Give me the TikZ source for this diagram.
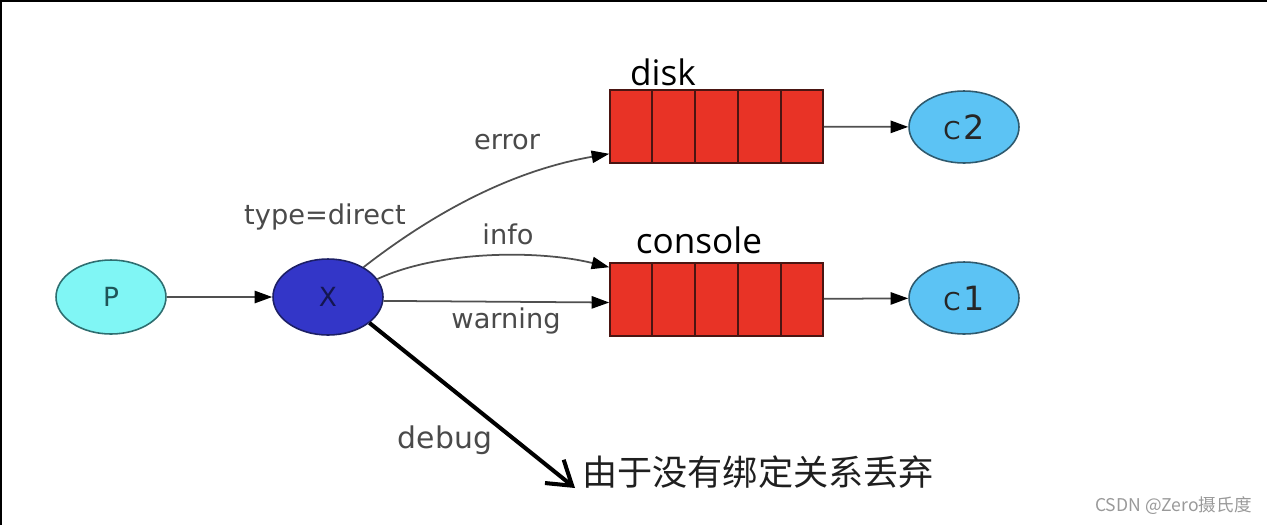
\documentclass[tikz,border=0pt]{standalone}
\usepackage{fontspec}
\setmainfont{DejaVu Sans}
\newfontfamily\cjk{Noto Sans CJK SC}
\newfontfamily\qfont{Open Sans}
\usetikzlibrary{arrows.meta,shapes.geometric,calc}
\definecolor{pfill}{HTML}{80F6F5}
\definecolor{pdraw}{HTML}{2E6E70}
\definecolor{ptext}{HTML}{1F5558}
\definecolor{xfill}{HTML}{3336C8}
\definecolor{xdraw}{HTML}{1C1F66}
\definecolor{xtext}{HTML}{141650}
\definecolor{cfill}{HTML}{5CC3F4}
\definecolor{cdraw}{HTML}{2F5A6E}
\definecolor{qfill}{HTML}{E83326}
\definecolor{qdraw}{HTML}{4A1512}
\definecolor{edgecol}{HTML}{505050}
\definecolor{labcol}{HTML}{4A4A4A}
\begin{document}
\begin{tikzpicture}[x=0.02cm,y=-0.02cm,
  ell/.style={ellipse, inner sep=0pt, minimum width=2.2cm, minimum height=1.48cm, line width=0.9pt},
  queue/.style={rectangle, fill=qfill, draw=qdraw, line width=0.9pt, minimum width=4.26cm, minimum height=1.46cm, inner sep=0pt},
  cell/.style={draw=qdraw, line width=0.9pt},
  edge/.style={draw=edgecol, line width=1pt, -{Triangle[length=10pt,width=7pt,fill=black,color=black]}},
  lab/.style={text=labcol, font=\fontsize{15.5}{16}\selectfont, inner sep=0pt},
  qlab/.style={text=black, font=\qfont\fontsize{20}{22}\selectfont, inner sep=0pt},
  clab/.style={font=\fontsize{19}{19}\selectfont},
  debugarrow/.style={draw=black, line width=2.3pt, -{Straight Barb[length=13pt,width=17pt,line width=2.3pt]}}
]
\useasboundingbox (0,0) rectangle (1267,525);
\draw[line width=1.2pt] (1,525) -- (1,1) -- (1267,1);

% nodes
\node[ell, fill=pfill, draw=pdraw, text=ptext, font=\fontsize{15}{15}\selectfont] (P) at (111,297) {P};
\node[ell, fill=xfill, draw=xdraw, text=xtext, minimum height=1.52cm, font=\fontsize{15}{15}\selectfont] (X) at (328,297) {X};
\node[queue] (disk) at (716.5,126.5) {};
\node[queue] (console) at (716.5,299.5) {};
\foreach \q in {disk,console}{
  \foreach \i in {1,...,4}{
    \draw[cell] ($(\q.north west)!\i/5!(\q.north east)$) -- ($(\q.south west)!\i/5!(\q.south east)$);
  }
}
\node[ell, fill=cfill, draw=cdraw, minimum height=1.44cm, text=black!85] (C2) at (964,127) {{\fontsize{14}{14}\selectfont C}\,{\fontsize{19}{19}\selectfont 2}};
\node[ell, fill=cfill, draw=cdraw, minimum height=1.44cm, text=black!85] (C1) at (964,298) {{\fontsize{14}{14}\selectfont C}\,{\fontsize{19}{19}\selectfont 1}};

\node[qlab] (disklab) at (663,72) {disk};
\node[qlab] (conslab) at (699,240) {console};

% labels
\node[lab] (ltype) at (325,217) {type=direct};
\node[lab] (lerror) at (507,142) {error};
\node[lab] (linfo) at (508,234) {info};
\node[lab] (lwarn) at (506,321) {warning};
\node[lab, font=\fontsize{17}{17}\selectfont] (ldebug) at (445,440) {debug};

\node[anchor=west, inner sep=0pt, text=black!88, font=\cjk\fontsize{20}{20}\selectfont] (drop) at (582,472) {由于没有绑定关系丢弃};
\node[anchor=east, inner sep=0pt, text=black!40, font=\cjk\fontsize{10}{10}\selectfont] (wm) at (1252,506) {CSDN @Zero摄氏度};

% connectors
\draw[edge] (P) -- (X);
\draw[edge] (disk) -- (C2);
\draw[edge] (console) -- (C1);
\draw[edge] (X.40) .. controls (450,200) and (527,168) .. ($(disk.south west)+(0,-10)$);
\draw[edge] (X.20) .. controls (440,250) and (540,250) .. ($(console.north west)+(0,5)$);
\draw[edge] (X.-4) -- ($(console.west)+(0,3)$);
\coordinate (dtip) at (575,488);
\draw[debugarrow] (X.-32) -- (dtip);
\end{tikzpicture}
\end{document}
